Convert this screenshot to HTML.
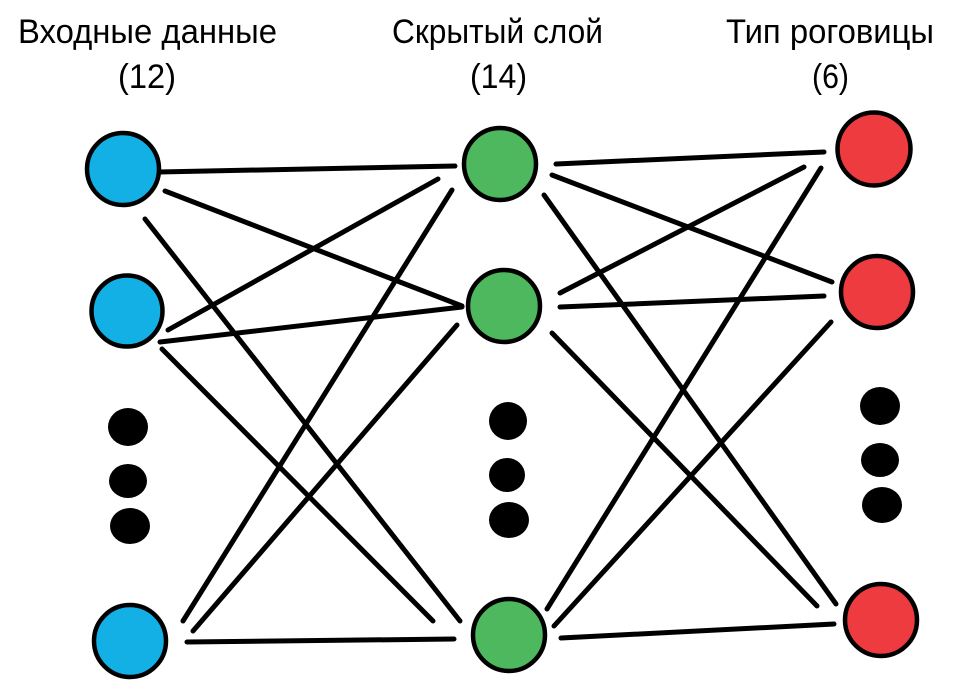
<!DOCTYPE html>
<html>
<head>
<meta charset="utf-8">
<style>
html,body{margin:0;padding:0;background:#fff;}
svg{display:block;}
text{font-family:"Liberation Sans","DejaVu Sans",sans-serif;fill:#000;}
</style>
</head>
<body>
<svg width="978" height="692" viewBox="0 0 978 692" xmlns="http://www.w3.org/2000/svg">
<rect width="978" height="692" fill="#fff"/>
<g font-size="34">
<text x="18" y="43" textLength="259" lengthAdjust="spacingAndGlyphs">Входные данные</text>
<text x="118" y="88" textLength="58" lengthAdjust="spacingAndGlyphs">(12)</text>
<text x="392" y="43" textLength="211" lengthAdjust="spacingAndGlyphs">Скрытый слой</text>
<text x="470" y="88" textLength="57" lengthAdjust="spacingAndGlyphs">(14)</text>
<text x="726" y="43" textLength="208" lengthAdjust="spacingAndGlyphs">Тип роговицы</text>
<text x="812" y="88" textLength="37" lengthAdjust="spacingAndGlyphs">(6)</text>
</g>
<g stroke="#000" stroke-width="5" stroke-linecap="round" fill="none">
<line x1="159" y1="172" x2="455" y2="166"/>
<line x1="165" y1="191" x2="462" y2="306"/>
<line x1="145" y1="219" x2="460" y2="621"/>
<line x1="168" y1="330" x2="438" y2="179"/>
<line x1="160" y1="342" x2="462" y2="307"/>
<line x1="162" y1="349" x2="433" y2="621"/>
<line x1="183" y1="621" x2="452" y2="190"/>
<line x1="193" y1="631" x2="457" y2="325"/>
<line x1="187" y1="642" x2="454" y2="639"/>
<line x1="556" y1="164" x2="824" y2="152"/>
<line x1="552" y1="175" x2="832" y2="282"/>
<line x1="544" y1="195" x2="836" y2="604"/>
<line x1="560" y1="293" x2="804" y2="167"/>
<line x1="560" y1="307" x2="824" y2="296"/>
<line x1="552" y1="333" x2="817" y2="606"/>
<line x1="547" y1="609" x2="821" y2="168"/>
<line x1="554" y1="626" x2="831" y2="322"/>
<line x1="561" y1="638" x2="834" y2="624"/>
</g>
<g stroke="#000" stroke-width="4.5">
<circle cx="123" cy="169" r="36" fill="#13B0E6"/>
<circle cx="127" cy="311" r="35.5" fill="#13B0E6"/>
<circle cx="130" cy="641" r="36" fill="#13B0E6"/>
<circle cx="500" cy="164" r="36" fill="#4DB85E"/>
<circle cx="504" cy="306" r="36" fill="#4DB85E"/>
<circle cx="509" cy="635" r="36" fill="#4DB85E"/>
<circle cx="874" cy="149" r="36.5" fill="#EE3B3F"/>
<circle cx="877" cy="292" r="36" fill="#EE3B3F"/>
<circle cx="881" cy="620" r="36" fill="#EE3B3F"/>
</g>
<g fill="#000">
<ellipse cx="128" cy="427" rx="20" ry="19"/>
<ellipse cx="128" cy="481" rx="19" ry="17"/>
<ellipse cx="130" cy="526" rx="20" ry="18"/>
<ellipse cx="508" cy="421" rx="19" ry="19"/>
<ellipse cx="507" cy="475" rx="18" ry="17"/>
<ellipse cx="509" cy="520" rx="20" ry="18"/>
<ellipse cx="880" cy="406" rx="20" ry="19"/>
<ellipse cx="880" cy="460" rx="19" ry="17"/>
<ellipse cx="882" cy="505" rx="20" ry="18"/>
</g>
</svg>
</body>
</html>
